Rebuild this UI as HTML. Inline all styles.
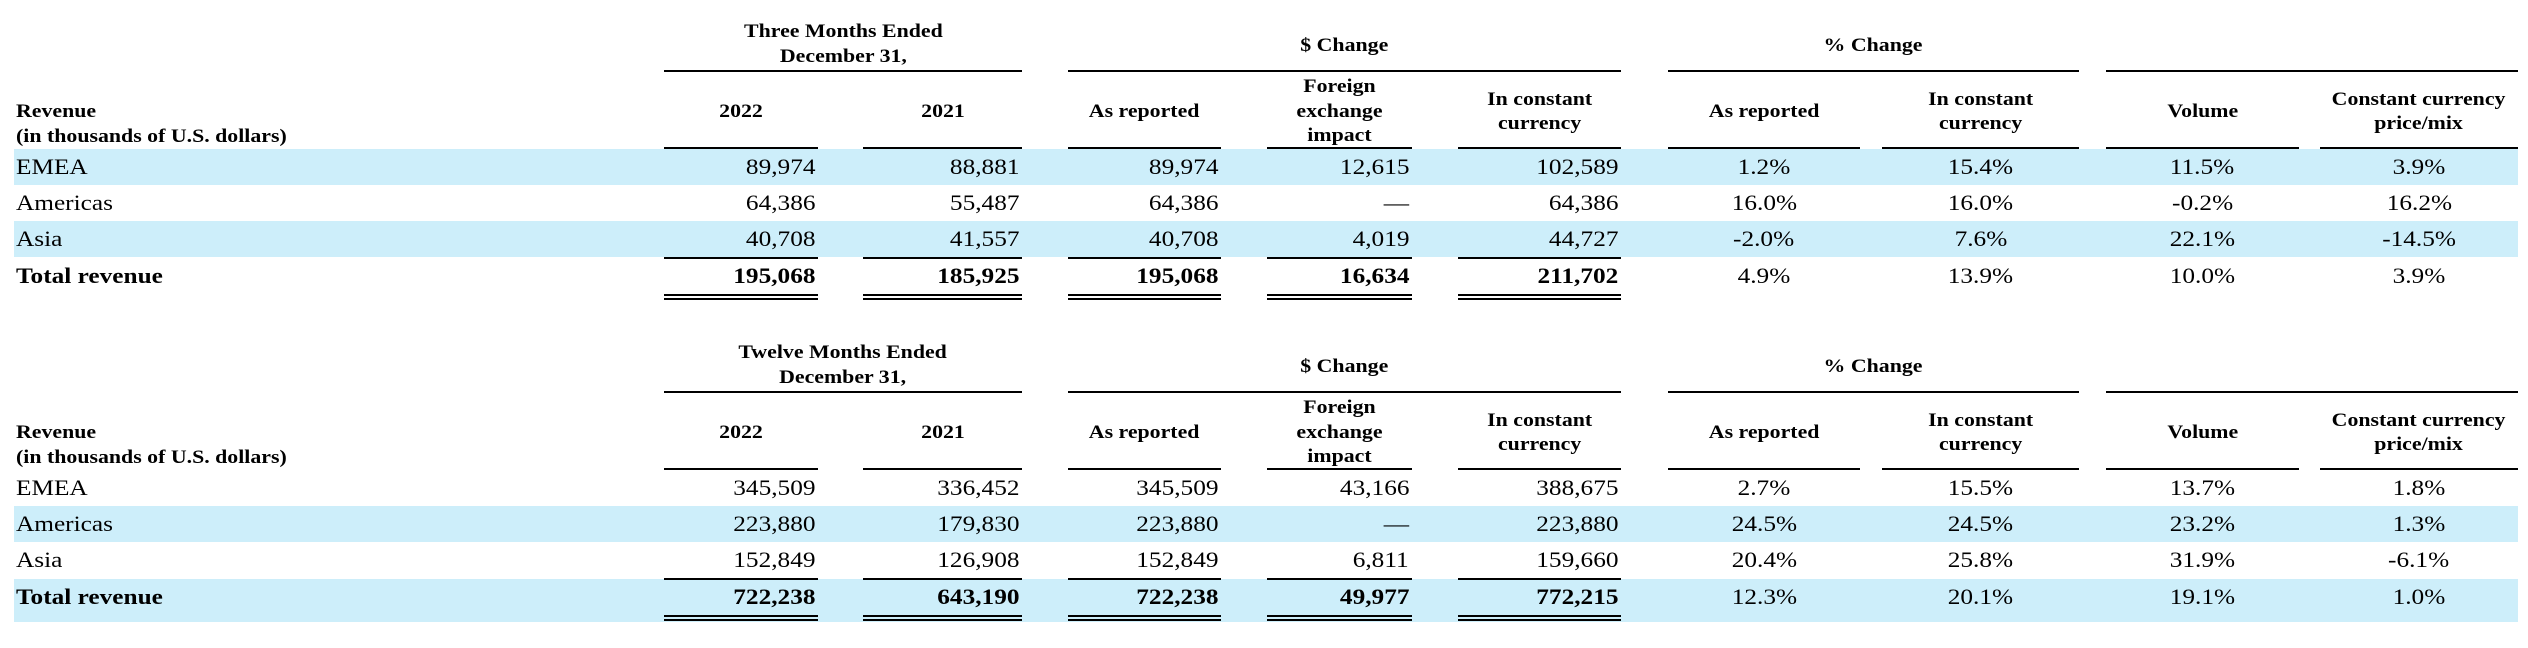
<!DOCTYPE html>
<html><head><meta charset="utf-8">
<style>
html,body{margin:0;padding:0;background:#fff}
#root{position:relative;width:2528px;height:648px;overflow:hidden;font-family:"Liberation Serif",serif;color:#000}
.abs{position:absolute;white-space:nowrap}
.band{position:absolute;background:#cdeefa}
.ln{position:absolute;background:#000}
.t{display:inline-block;transform:scaleX(1.15)}
.r{text-align:right}.r .t{transform-origin:right center}
.c{text-align:center}.c .t{transform-origin:center center}
.l .t{transform-origin:left center}
.hd{font-weight:bold;font-size:19px;line-height:24.5px}
.cell{font-size:22px;line-height:36px}
</style></head>
<body>
<div id="root"></div>
<script>
const regions=["EMEA","Americas","Asia","Total revenue"];
const q_2022=["89,974","64,386","40,708","195,068"];
const q_2021=["88,881","55,487","41,557","185,925"];
const q_asRep=["89,974","64,386","40,708","195,068"];
const q_fx=["12,615","—","4,019","16,634"];
const q_const=["102,589","64,386","44,727","211,702"];
const q_pctRep=["1.2%","16.0%","-2.0%","4.9%"];
const q_pctConst=["15.4%","16.0%","7.6%","13.9%"];
const q_volume=["11.5%","-0.2%","22.1%","10.0%"];
const q_price=["3.9%","16.2%","-14.5%","3.9%"];
const y_2022=["345,509","223,880","152,849","722,238"];
const y_2021=["336,452","179,830","126,908","643,190"];
const y_asRep=["345,509","223,880","152,849","722,238"];
const y_fx=["43,166","—","6,811","49,977"];
const y_const=["388,675","223,880","159,660","772,215"];
const y_pctRep=["2.7%","24.5%","20.4%","12.3%"];
const y_pctConst=["15.5%","24.5%","25.8%","20.1%"];
const y_volume=["13.7%","23.2%","31.9%","19.1%"];
const y_price=["1.8%","1.3%","-6.1%","1.0%"];

const root=document.getElementById('root');
const cols=[[664,818],[863,1022],[1068,1221],[1267,1412],[1458,1621],[1668,1860],[1882,2079],[2106,2299],[2320,2518]];
const heads=[["2022"],["2021"],["As reported"],["Foreign","exchange","impact"],["In constant","currency"],["As reported"],["In constant","currency"],["Volume"],["Constant currency","price/mix"]];
const groups=[[0,1],[2,4],[5,6],[7,8]];

function mk(cls,x,y,w,h,name){const d=document.createElement('div');d.className=cls;d.style.left=x+'px';d.style.top=y+'px';if(w!=null)d.style.width=w+'px';if(h!=null)d.style.height=h+'px';


root.appendChild(d);return d;}
function txt(d,html){d.innerHTML='<span class="t">'+html+'</span>';}

function table(off,title,shaded,data,prefix){
  shaded.forEach(i=>{const top=[149,185,221,258][i];const h=i===3?43:36;mk('band',14,off+top,2504,h,prefix+'-band-'+i);});
  const g=mk('abs hd c',cols[0][0],off+20,cols[1][1]-cols[0][0],null,prefix+'-period-header');txt(g,title+'<br>December 31,');
  const d1=mk('abs hd c',cols[2][0],off+34,cols[4][1]-cols[2][0],null,prefix+'-dollar-change-header');txt(d1,'$ Change');
  const d2=mk('abs hd c',cols[5][0],off+34,cols[6][1]-cols[5][0],null,prefix+'-pct-change-header');txt(d2,'% Change');
  groups.forEach((gr,i)=>mk('ln',cols[gr[0]][0],off+70,cols[gr[1]][1]-cols[gr[0]][0],2,prefix+'-group-rule-'+i));
  const rv=mk('abs hd l',16,off+100,null,null,prefix+'-revenue-header');txt(rv,'Revenue<br>(in thousands of U.S. dollars)');
  heads.forEach((h,i)=>{const n=h.length;const top=off+112-n*12.25;
    const e=mk('abs hd c',cols[i][0],top,cols[i][1]-cols[i][0],null,prefix+'-col-header-'+i);txt(e,h.join('<br>'));
    mk('ln',cols[i][0],off+147,cols[i][1]-cols[i][0],2,prefix+'-header-rule-'+i);
  });
  regions.forEach((r,ri)=>{
    const top=off+[149,185,221,258][ri];
    const lab=mk('abs cell l',16,top,null,null,prefix+'-row-label-'+ri);if(ri===3)lab.style.fontWeight='bold';txt(lab,r);
    data.forEach((arr,ci)=>{
      const isPct=ci>=5;
      const e=mk('abs cell '+(isPct?'c':'r'),cols[ci][0],top,cols[ci][1]-cols[ci][0]-(isPct?0:3),null,prefix+'-cell-'+ri+'-'+ci);
      if(ri===3&&!isPct)e.style.fontWeight='bold';
      txt(e,arr[ri]);
    });
  });
  for(let ci=0;ci<5;ci++){
    const w=cols[ci][1]-cols[ci][0];
    mk('ln',cols[ci][0],off+257,w,2,prefix+'-subtotal-rule-'+ci);
    mk('ln',cols[ci][0],off+294,w,2,prefix+'-total-rule-a-'+ci);
    mk('ln',cols[ci][0],off+298,w,2,prefix+'-total-rule-b-'+ci);
  }
}
table(0,'Three Months Ended',[0,2],[q_2022,q_2021,q_asRep,q_fx,q_const,q_pctRep,q_pctConst,q_volume,q_price],'q4');
table(321,'Twelve Months Ended',[1,3],[y_2022,y_2021,y_asRep,y_fx,y_const,y_pctRep,y_pctConst,y_volume,y_price],'fy');
</script>
</body></html>
